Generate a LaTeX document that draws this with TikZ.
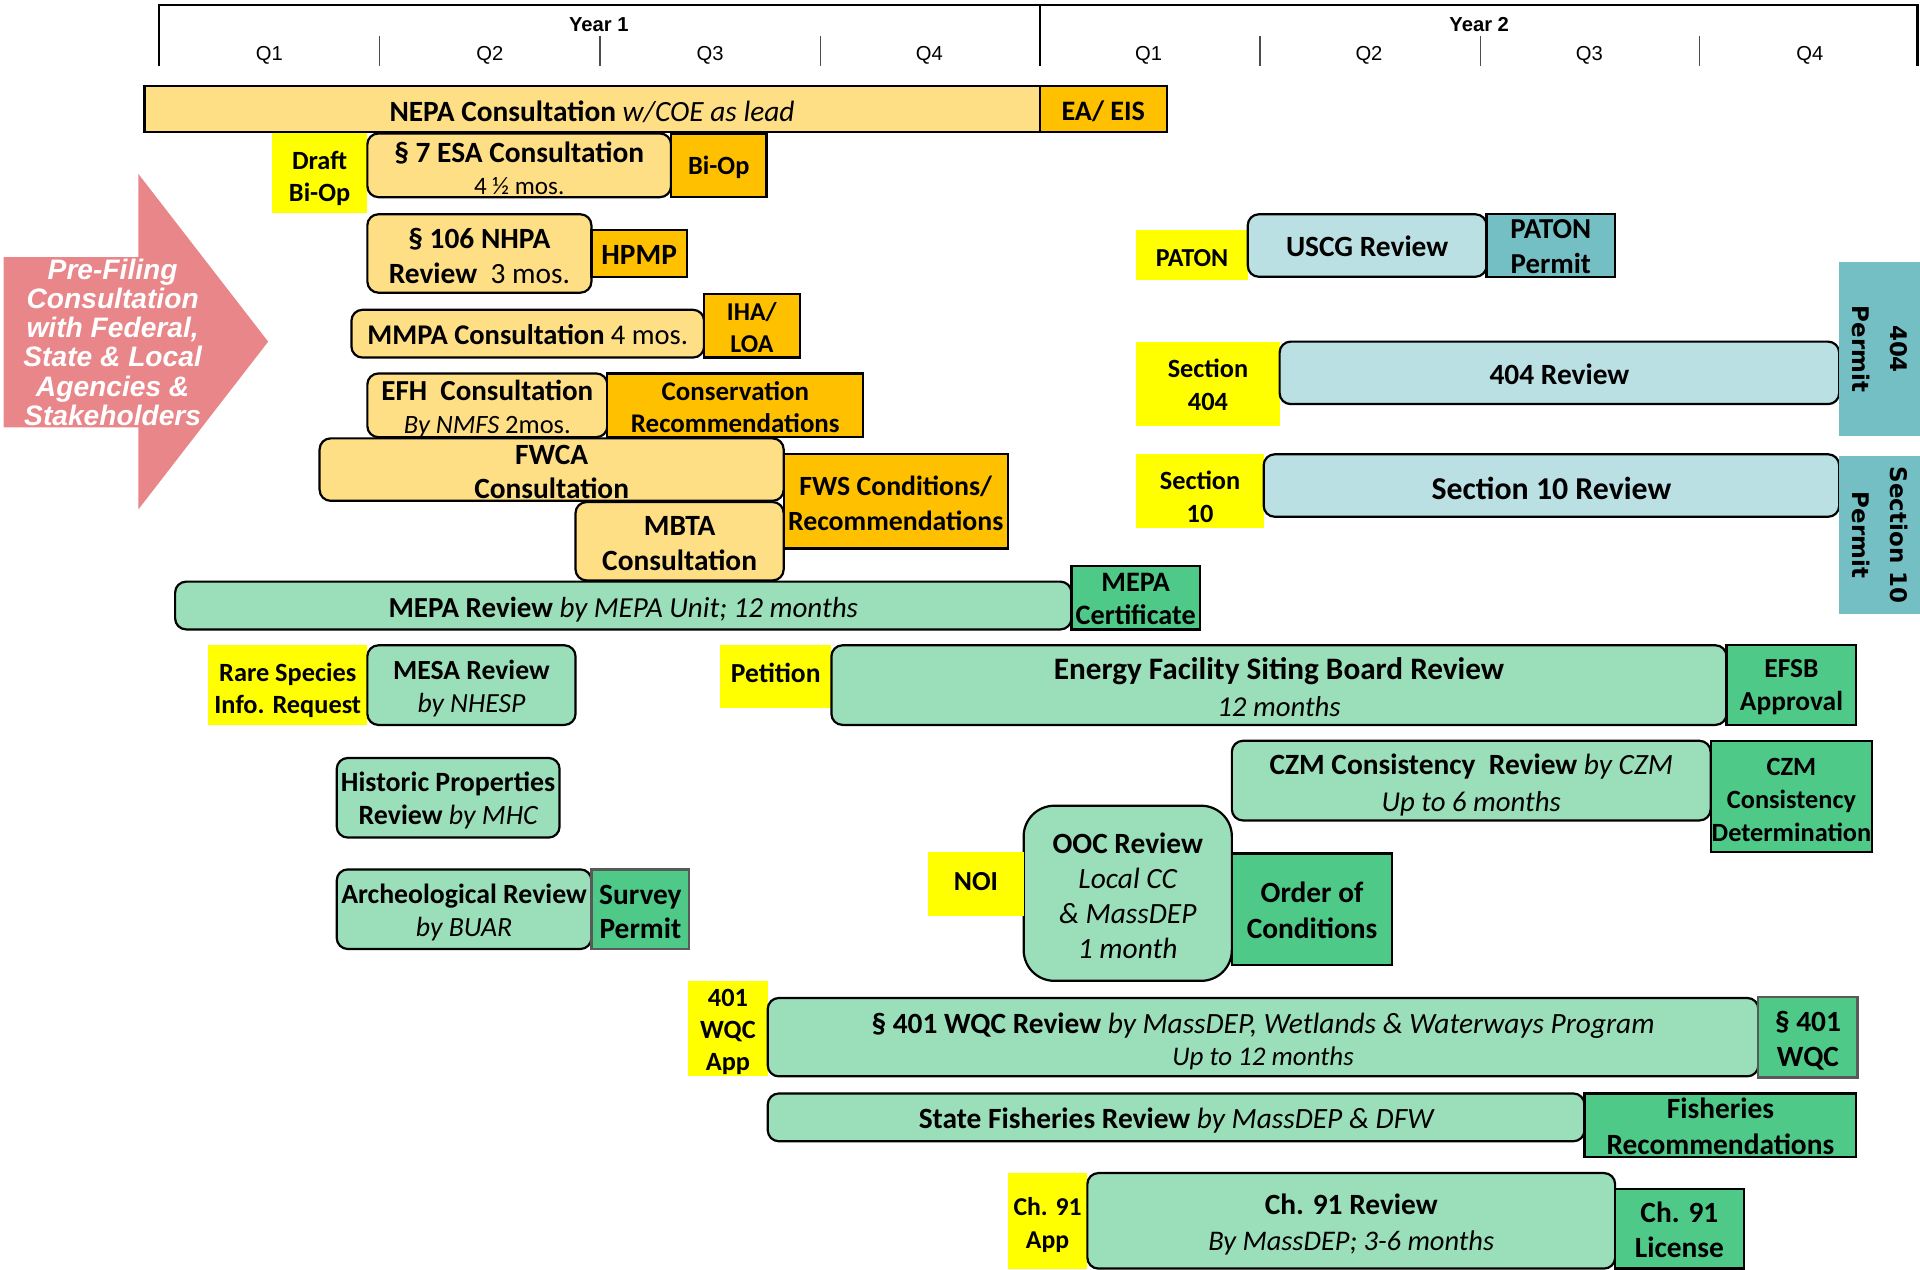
\documentclass[tikz,border=0pt]{standalone}
\usepackage{fontspec}
\setmainfont{Carlito}
\newfontfamily\arialf{Liberation Sans}
\newfontfamily\dejavuf{DejaVu Sans}
\definecolor{lor}{HTML}{FFDF85}
\definecolor{dor}{HTML}{FFC000}
\definecolor{yel}{HTML}{FFFF00}
\definecolor{lgr}{HTML}{9BDEBA}
\definecolor{dgr}{HTML}{4EC987}
\definecolor{lbl}{HTML}{BAE0E3}
\definecolor{tea}{HTML}{73BFC4}
\definecolor{pnk}{HTML}{E8868A}
\newcommand\fs[2]{\fontsize{#1pt}{#2pt}\selectfont\bfseries}
\newcommand\sub[1]{{\mdseries\itshape #1}}
\newcommand\reg[1]{{\mdseries #1}}
\tikzset{
  base/.style={inner sep=0pt, outer sep=0pt, anchor=north west},
  rb/.style={base, draw=black, line width=1.8pt, rounded corners=9pt},
  sb/.style={base, draw=black, line width=1.8pt},
  yb/.style={base, fill=yel},
  lo/.style={fill=lor}, do/.style={fill=dor},
  lg/.style={fill=lgr}, dg/.style={fill=dgr},
  lb/.style={fill=lbl}, tl/.style={fill=tea},
  txt/.style={inner sep=0pt, align=center, text=black},
  hdr/.style={inner sep=0pt, font=\arialf\fontsize{16.5pt}{18pt}\selectfont},
  rotlab/.style={inner sep=0pt, fill=tea, rotate=-90, align=center, font=\dejavuf\bfseries\fontsize{18.7pt}{31pt}\selectfont}
}
% box: style, name, x, y, w, h, text options, text
\newcommand\bx[8]{%
  \node[#1, minimum width=#5pt, minimum height=#6pt] (#2) at (#3,-#4) {};
  \node[txt, #7] (#2-t) at (#2.center) {#8};}
\begin{document}
\begin{tikzpicture}[x=1pt,y=1pt]
\useasboundingbox (0,0) rectangle (1568,-1037);
% header
\draw[line width=1.8pt] (130,-54) -- (130,-4) -- (1566,-4) -- (1566,-54);
\draw[line width=1.8pt] (849,-4) -- (849,-54);
\foreach \xx in {310,490,670,1029,1209,1388}
  \draw[line width=1pt, black!70] (\xx,-29) -- (\xx,-54);
\node[hdr, font=\arialf\bfseries\fontsize{16.5pt}{18pt}\selectfont] (y1) at (489,-20) {Year 1};
\node[hdr, font=\arialf\bfseries\fontsize{16.5pt}{18pt}\selectfont] (y2) at (1208,-20) {Year 2};
\node[hdr] (q11) at (220,-45.5) {Q1};
\node[hdr] (q12) at (400,-45.5) {Q2};
\node[hdr] (q13) at (580,-45.5) {Q3};
\node[hdr] (q14) at (759,-45.5) {Q4};
\node[hdr] (q21) at (938,-45.5) {Q1};
\node[hdr] (q22) at (1118,-45.5) {Q2};
\node[hdr] (q23) at (1298,-45.5) {Q3};
\node[hdr] (q24) at (1478,-45.5) {Q4};
% pre-filing arrow
\fill[pnk] (3,-210) -- (113,-210) -- (113,-142) -- (219,-279) -- (113,-416) -- (113,-349) -- (3,-349) -- cycle;
\node[inner sep=0pt, align=center, text=white, font=\arialf\bfseries\itshape\fontsize{23pt}{23.8pt}\selectfont] (pref) at (92,-279.5)
  {Pre-Filing\\Consultation\\with Federal,\\State \& Local\\Agencies \&\\Stakeholders};
% NEPA group
\bx{sb, lo}{nepa}{118}{70}{731}{38}{font=\fs{24}{28}, yshift=-2pt}{NEPA Consultation \sub{w/COE as lead}}
\bx{sb, do}{eaeis}{849}{70}{104}{38}{font=\fs{23}{27}, yshift=-2pt}{EA/ EIS}
\bx{yb}{draft}{222}{109}{78}{65}{font=\fs{21.5}{26}, yshift=-4pt}{Draft\\Bi-Op}
\bx{rb, lo}{esa}{300}{109}{248}{52}{font=\fs{24}{26}, yshift=-2.5pt}{\S\ 7 ESA Consultation\\{\mdseries\fontsize{20.5pt}{26pt}\selectfont 4 ½ mos.}}
\bx{sb, do}{biop}{548}{109}{78}{52}{font=\fs{21.5}{26}, yshift=-2pt}{Bi-Op}
\bx{rb, lo}{nhpa}{300}{175}{183}{64}{font=\fs{24}{29}, yshift=-2pt}{\S\ 106 NHPA\\Review\ \ \reg{3 mos.}}
\bx{sb, do}{hpmp}{483}{188}{78}{38}{font=\fs{24}{28}, yshift=-1.5pt}{HPMP}
\bx{rb, lo}{mmpa}{287}{253}{288}{39}{font=\fs{23.3}{28}, yshift=-1pt}{MMPA Consultation \reg{4 mos.}}
\bx{sb, do}{iha}{575}{240}{78}{52}{font=\fs{21}{26}, yshift=-1.5pt}{IHA/\\LOA}
\bx{rb, lo}{efh}{300}{305}{196}{52}{font=\fs{23.7}{27}, yshift=-3pt}{EFH\ \ Consultation\\{\fontsize{21.6pt}{27pt}\selectfont\sub{By NMFS} \reg{2mos.}}}
\bx{sb, do}{consrec}{496}{305}{209}{52}{font=\fs{22}{26}, yshift=-1.5pt}{Conservation\\Recommendations}
\bx{rb, lo}{fwca}{261}{358}{379}{51}{font=\fs{24}{28}, yshift=-2pt}{FWCA\\Consultation}
\bx{sb, do}{fws}{640}{371}{183}{77}{font=\fs{22.7}{28}, yshift=-1.5pt}{FWS Conditions/\\Recommendations}
\bx{rb, lo}{mbta}{470}{410}{170}{64}{font=\fs{24}{29}, yshift=-2pt}{MBTA\\Consultation}
% MEPA group
\bx{rb, lg}{mepa}{143}{475}{732}{39}{font=\fs{23.7}{28}, yshift=-3pt}{MEPA Review \sub{by MEPA Unit; 12 months}}
\bx{sb, dg}{mepacert}{875}{462}{105}{52}{font=\fs{23}{27}, yshift=-1pt}{MEPA\\Certificate}
\bx{yb}{rare}{170}{527}{130}{65}{font=\fs{21.5}{26}, yshift=-4pt}{Rare Species\\Info. Request}
\bx{rb, lg}{mesa}{300}{527}{170}{65}{font=\fs{22.6}{27}, yshift=-3pt}{MESA Review\\\sub{by NHESP}}
\bx{yb}{petition}{588}{527}{91}{51}{font=\fs{22.5}{26}, yshift=3pt}{Petition}
\bx{rb, lg}{efsb}{679}{527}{731}{65}{font=\fs{25.5}{30}, yshift=-1.5pt}{Energy Facility Siting Board Review\\{\fontsize{23.5pt}{30pt}\selectfont\sub{12 months}}}
\bx{sb, dg}{efsbapp}{1410}{527}{106}{65}{font=\fs{22.4}{27}, yshift=-2pt}{EFSB\\Approval}
\bx{rb, lg}{hist}{275}{619}{182}{65}{font=\fs{22.8}{27}, yshift=-2pt}{Historic Properties\\Review \sub{by MHC}}
\bx{rb, lg}{czm}{1006}{605}{391}{65}{font=\fs{24}{30}, yshift=-3.5pt}{CZM Consistency\ \ Review \sub{by CZM}\\{\fontsize{23.5pt}{30pt}\selectfont\sub{Up to 6 months}}}
\bx{sb, dg}{czmdet}{1397}{605}{132}{91}{font=\fs{21.5}{27}, yshift=-3pt}{CZM\\Consistency\\Determination}
\bx{rb, lg, rounded corners=25pt}{ooc}{836}{658}{170}{143}{font=\fs{24}{28.5}, yshift=-2pt}{OOC Review\\\sub{Local CC}\\\sub{\& MassDEP}\\\sub{1 month}}
\bx{yb}{noi}{758}{696}{78}{52}{font=\fs{22.5}{26}, yshift=2pt}{NOI}
\bx{sb, dg}{ordcond}{1006}{697}{131}{91}{font=\fs{24}{29}, yshift=-1pt}{Order of\\Conditions}
\bx{rb, lg}{arch}{275}{710}{208}{65}{font=\fs{22.7}{27}, yshift=-3pt}{Archeological Review\\\sub{by BUAR}}
\bx{sb, dg, draw=black!65}{survey}{483}{710}{80}{65}{font=\fs{24}{28}, yshift=-2.5pt}{Survey\\Permit}
\bx{yb}{wqcapp}{562}{801}{65}{78}{font=\fs{21.5}{26}, yshift=-3pt}{401\\WQC\\App}
\bx{rb, lg}{wqc}{627}{815}{809}{64}{font=\fs{24}{26}, yshift=-3.5pt}{\S\ 401 WQC Review \sub{by MassDEP, Wetlands \& Waterways Program}\\{\fontsize{22pt}{26pt}\selectfont\sub{Up to 12 months}}}
\bx{sb, dg, draw=black!65}{wqcbox}{1436}{814}{81}{66}{font=\fs{24}{28}, yshift=-3pt}{\S\ 401\\WQC}
\bx{rb, lg}{fish}{627}{893}{667}{39}{font=\fs{24}{28}, yshift=-3pt}{State Fisheries Review \sub{by MassDEP \& DFW}}
\bx{sb, dg}{fishrec}{1294}{893}{222}{52}{font=\fs{24}{29}, yshift=-1pt}{Fisheries\\Recommendations}
\bx{yb}{ch91app}{823}{958}{65}{78}{font=\fs{21}{27}, yshift=-3.5pt}{Ch. 91\\App}
\bx{rb, lg}{ch91}{888}{958}{431}{78}{font=\fs{24}{29}, yshift=-3pt}{Ch. 91 Review\\{\fontsize{23.2pt}{29pt}\selectfont\sub{By MassDEP; 3-6 months}}}
\bx{sb, dg}{ch91lic}{1319}{971}{105}{65}{font=\fs{24}{29}, yshift=-1pt}{Ch. 91\\License}
% federal permits (right)
\bx{yb}{paton}{928}{188}{91}{41}{font=\fs{21.2}{26}, yshift=-2pt}{PATON}
\bx{rb, lb}{uscg}{1019}{175}{195}{51}{font=\fs{24}{28}, yshift=-1pt}{USCG Review}
\bx{sb, tl}{patonp}{1214}{175}{105}{51}{font=\fs{23.6}{28}, yshift=-1pt}{PATON\\Permit}
\bx{yb}{sec404}{928}{279}{117}{69}{font=\fs{21.5}{27}, yshift=-0.5pt}{Section\\404}
\bx{rb, lb}{rev404}{1045}{279}{457}{51}{font=\fs{24}{28}, yshift=-1pt}{404 Review}
\node[rotlab, minimum width=142pt, minimum height=66pt] (p404) at (1535,-285) {404\\Permit};
\bx{yb}{sec10}{928}{371}{104}{60}{font=\fs{21.5}{27}, yshift=-5pt}{Section\\10}
\bx{rb, lb}{rev10}{1032}{371}{470}{51}{font=\fs{26}{30}, yshift=-2pt}{Section 10 Review}
\node[rotlab, minimum width=129pt, minimum height=66pt] (p10) at (1535,-437) {Section 10\\Permit};
\end{tikzpicture}
\end{document}
